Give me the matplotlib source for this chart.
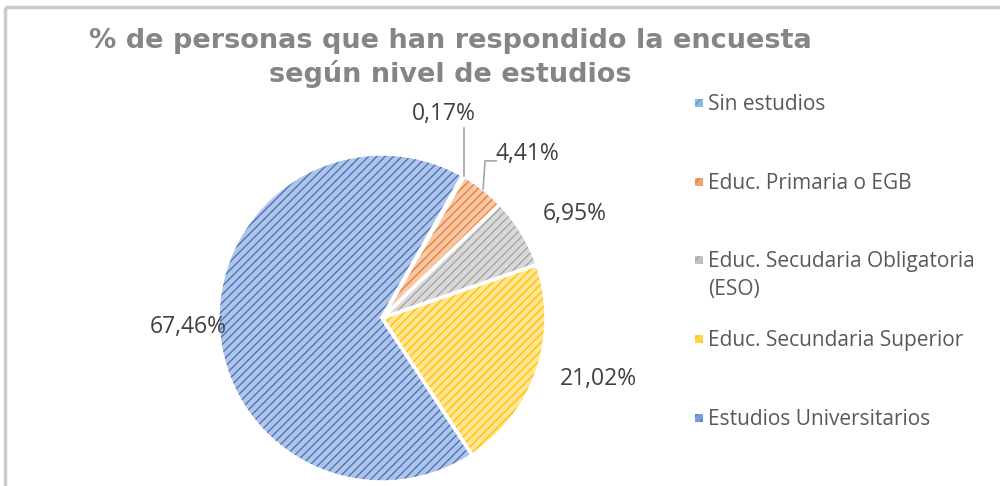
import numpy as np
import matplotlib.pyplot as plt
from matplotlib.patches import Rectangle
from matplotlib.colors import to_rgb

categories = ["Sin estudios", "Educ. Primaria o EGB",
              "Educ. Secudaria Obligatoria\n(ESO)",
              "Educ. Secundaria Superior", "Estudios Universitarios"]
values = [0.17, 4.41, 6.95, 21.02, 67.46]
colors = ["#5B9BD5", "#ED7D31", "#A5A5A5", "#FFC000", "#4472C4"]
title = "% de personas que han respondido la encuesta\nsegún nivel de estudios"

W, H = 1000, 486
plt.rcParams['hatch.linewidth'] = 0.95


def lighten(c, f=0.55):
    r, g, b = to_rgb(c)
    return (r + (1 - r) * f, g + (1 - g) * f, b + (1 - b) * f)


fig = plt.figure(figsize=(W / 100, H / 100), dpi=100)
ax = fig.add_axes([0, 0, 1, 1])

cx, cy, r = 382, H - 318, 164
pie_kw = dict(startangle=60.5, counterclock=False, center=(cx, cy),
              radius=r, frame=True)

# base fill
wedges, _ = ax.pie(values, colors=[lighten(c, 0.58) for c in colors],
                   wedgeprops=dict(linewidth=0), **pie_kw)
# hatch overlay
hw, _ = ax.pie(values, colors=["none"] * 5,
               wedgeprops=dict(linewidth=0, hatch='////'), **pie_kw)
for w, c in zip(hw, colors):
    w.set_edgecolor(c)
    w.set_linewidth(0)
# white separators
ax.pie(values, colors=["none"] * 5,
       wedgeprops=dict(linewidth=2.5, edgecolor='white', fill=False), **pie_kw)
ax.set_xlim(0, W)
ax.set_ylim(0, H)
ax.set_aspect('equal')
ax.axis('off')

# data labels, offsets in px from the wedge's outer mid point
offsets = [(-20, 62), (44, 35), (53, 18), (61, -8), (-30, -4)]
for w, v, (ox, oy) in zip(wedges, values, offsets):
    mid = np.deg2rad((w.theta1 + w.theta2) / 2)
    ex, ey = cx + r * np.cos(mid), cy + r * np.sin(mid)
    ax.text(ex + ox, ey + oy, f"{v:.2f}".replace('.', ',') + '%',
            ha='center', va='center', fontsize=16.5, family='Open Sans',
            color='#404040')

# leader lines for the two small slices
for i, w in enumerate(wedges[:2]):
    mid = np.deg2rad((w.theta1 + w.theta2) / 2)
    ex, ey = cx + r * np.cos(mid), cy + r * np.sin(mid)
    ox, oy = offsets[i]
    if i == 0:
        xs, ys = [ex, ex], [ey, ey + oy - 14]
    else:
        xs, ys = [ex, ex + 2, ex + 13], [ey, ey + oy - 7, ey + oy - 7]
    ax.plot(xs, ys, color='#A6A6A6', lw=1.2)

# title
ax.text(450, H - 58, title, ha='center', va='center', fontsize=19.5,
        fontweight='bold', family='DejaVu Sans', color='#858585',
        linespacing=1.25)

# legend
for i, (lab, c) in enumerate(zip(categories, colors)):
    y = H - (103 + i * 78.75)
    ax.add_patch(Rectangle((695, y - 4), 8, 8, facecolor=lighten(c, 0.3),
                           edgecolor=c, hatch='///', linewidth=0))
    ax.text(708, y + 9, lab, ha='left', va='top', fontsize=15,
            family='Open Sans', color='#595959', linespacing=1.42)

# chart border (top and left)
ax.plot([5, W], [H - 7, H - 7], color='#C9CDCA', lw=2.5, solid_capstyle='butt')
ax.plot([5, 5], [0, H - 7], color='#C9CDCA', lw=2.5, solid_capstyle='butt')

fig.savefig("out.png", dpi=100)
